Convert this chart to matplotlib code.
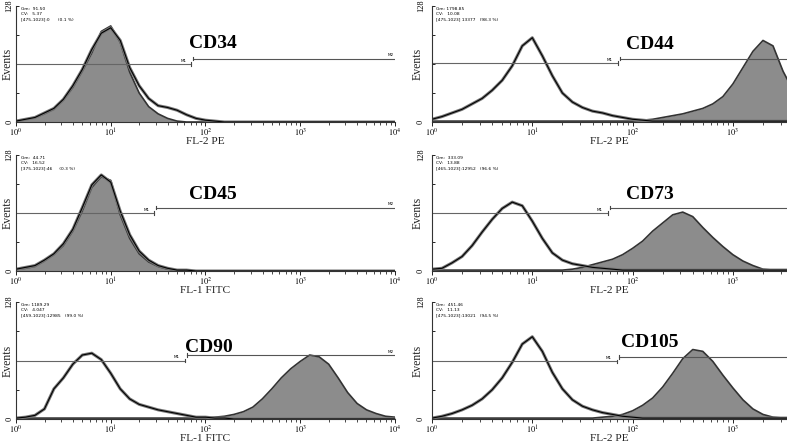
import numpy as np
import matplotlib
matplotlib.use('Agg')
import matplotlib.pyplot as plt

plt.rcParams['font.family'] = ['Liberation Serif', 'DejaVu Serif']
plt.rcParams['mathtext.fontset'] = 'stix'

# channel positions (log10 of fluorescence), left panels show 10^0..10^4,
# right panels are cut off at the picture edge
log_left = np.round(np.arange(0, 4.01, 0.1), 1)
log_right = np.round(np.arange(0, 3.61, 0.1), 1)

markers = ['CD34', 'CD44', 'CD45', 'CD73', 'CD90', 'CD105']
channels = ['FL-2 PE', 'FL-2 PE', 'FL-1 FITC', 'FL-2 PE', 'FL-1 FITC', 'FL-2 PE']
stats = [
    ['Gm:  91.50', 'CV:   5.37', '[475-1023]:0      (0.1 %)'],
    ['Gm: 1798.85', 'CV:   10.08', '[475-1023] 13377   (98.3 %)'],
    ['Gm:  44.71', 'CV:   16.52', '[375-1023]:46     (0.3 %)'],
    ['Gm:  333.09', 'CV:   13.88', '[465-1023]:12952   (96.6 %)'],
    ['Gm: 1189.29', 'CV:   4.047', '[459-1023]:12985   (99.0 %)'],
    ['Gm:  451.46', 'CV:   11.13', '[475-1023]:13021   (94.5 %)'],
]
# gate markers: end of M1 (log10), and heights of M1 / M2 (events)
m1_end = [1.85, 1.85, 1.46, 1.75, 1.78, 1.84]
m1_y = [64, 65, 64, 64, 64, 63]
m2_y = [70, 70, 70, 70, 70, 68]

# stained sample (grey filled) and isotype control (open) histograms
cd34_stained = [1, 3, 5, 9, 14, 24, 38, 56, 76, 100, 106, 88, 55, 32, 17, 9, 4, 1,
                0, 0, 0, 0, 0, 0, 0, 0, 0, 0, 0, 0, 0, 0, 0, 0, 0, 0, 0, 0, 0, 0, 0]
cd34_control = [1, 3, 5, 10, 15, 25, 40, 58, 80, 98, 104, 90, 60, 40, 26, 18, 16, 13, 8, 4, 2, 1,
                0, 0, 0, 0, 0, 0, 0, 0, 0, 0, 0, 0, 0, 0, 0, 0, 0, 0, 0]

cd44_stained = [1, 1, 1, 1, 1, 1, 1, 1, 1, 1, 1, 1, 1, 1, 1, 1, 1, 1, 1, 1, 1,
                2, 3, 5, 7, 9, 12, 15, 20, 28, 42, 60, 78, 90, 84, 56, 35]
cd44_control = [3, 6, 10, 14, 20, 26, 35, 46, 62, 84, 93, 73, 51, 32, 22, 16, 12, 10, 7, 5, 3, 2,
                1, 1, 1, 1, 1, 1, 1, 1, 1, 1, 1, 1, 1, 1, 1]

cd45_stained = [2, 3, 5, 11, 18, 28, 44, 66, 92, 104, 100, 62, 36, 19, 10, 5, 2, 1,
                0, 0, 0, 0, 0, 0, 0, 0, 0, 0, 0, 0, 0, 0, 0, 0, 0, 0, 0, 0, 0, 0, 0]
cd45_control = [2, 4, 6, 12, 19, 30, 46, 70, 95, 106, 98, 66, 40, 22, 12, 6, 3, 1, 1,
                0, 0, 0, 0, 0, 0, 0, 0, 0, 0, 0, 0, 0, 0, 0, 0, 0, 0, 0, 0, 0, 0]

cd73_stained = [1, 1, 1, 1, 1, 1, 1, 1, 1, 1, 1, 1, 1, 1,
                2, 4, 7, 10, 13, 18, 25, 33, 44, 53, 62, 65, 60, 48, 37, 27, 18, 11, 6, 2, 1, 1, 0]
cd73_control = [2, 3, 9, 16, 28, 43, 57, 69, 76, 72, 55, 36, 20, 12, 8, 6, 4, 3, 2, 1,
                1, 1, 1, 1, 1, 1, 1, 1, 1, 1, 1, 1, 1, 1, 1, 1, 1]

cd90_stained = [1, 1, 1, 1, 1, 1, 1, 1, 1, 1, 1, 1, 1, 1, 1, 1, 1, 1, 1, 1, 1,
                2, 3, 5, 8, 13, 22, 33, 45, 55, 63, 70, 68, 60, 45, 29, 17, 10, 6, 3, 2]
cd90_control = [1, 2, 4, 11, 33, 45, 60, 70, 72, 65, 50, 33, 22, 16, 13, 10, 8, 6, 4, 2, 2, 1, 1,
                0, 0, 0, 0, 0, 0, 0, 0, 0, 0, 0, 0, 0, 0, 0, 0, 0, 0]

cd105_stained = [1, 1, 1, 1, 1, 1, 1, 1, 1, 1, 1, 1, 1, 1, 1, 1, 1,
                 2, 3, 5, 9, 15, 23, 35, 50, 66, 76, 74, 63, 48, 34, 21, 11, 5, 2, 1, 1]
cd105_control = [1, 3, 6, 10, 15, 22, 32, 45, 62, 82, 90, 74, 51, 33, 21, 14, 10, 7, 5, 3, 2, 1,
                 1, 1, 1, 1, 1, 1, 1, 1, 1, 1, 1, 1, 1, 1, 1]

stained = [cd34_stained, cd44_stained, cd45_stained, cd73_stained, cd90_stained, cd105_stained]
control = [cd34_control, cd44_control, cd45_control, cd73_control, cd90_control, cd105_control]

W, H = 787, 448
fig = plt.figure(figsize=(W / 100, H / 100), dpi=100)

# pixel boxes: (zero line, top) per row, (left, right) per column
rows_px = [(122, 6), (271, 155), (419, 302)]
cols_px = [(16, 395), (432, 787)]
xmax = [4.0, 355 / 100.3]
ytick_pad = [1.8, 5.2]
title_pos = [(0.52, 0.68), (0.614, 0.67), (0.52, 0.66), (0.614, 0.66), (0.51, 0.61), (0.614, 0.65)]

for i, name in enumerate(markers):
    r, c = divmod(i, 2)
    zero, top = rows_px[r]
    x0, x1 = cols_px[c]
    ax = fig.add_axes([x0 / W, 1 - zero / H, (x1 - x0) / W, (zero - top) / H])
    logs = log_left if c == 0 else log_right
    x = 10 ** logs

    ax.fill_between(x, 0, stained[i], color='#8c8c8c', lw=0)
    ax.plot(x, stained[i], color='#333333', lw=1.2)
    ax.plot(x, control[i], color='#777777', lw=2.2)
    ax.plot(x, control[i], color='black', lw=0.8)

    # gate markers
    ax.plot([1, 10 ** m1_end[i]], [m1_y[i], m1_y[i]], color='#666666', lw=0.8)
    ax.plot([10 ** (m1_end[i] + 0.02), 10 ** 4], [m2_y[i], m2_y[i]], color='#555555', lw=0.8)
    ax.plot([10 ** m1_end[i]] * 2, [m1_y[i] - 2, m1_y[i] + 2], color='#444444', lw=0.8)
    ax.plot([10 ** (m1_end[i] + 0.02)] * 2, [m2_y[i] - 2, m2_y[i] + 2], color='#444444', lw=0.8)
    ax.text(10 ** (m1_end[i] - 0.08), m1_y[i] + 1.5, 'M1', fontsize=3, ha='center', va='bottom',
            family='DejaVu Sans')
    if c == 0:
        ax.text(10 ** 3.95, m2_y[i] + 1.5, 'M2', fontsize=3, ha='center', va='bottom',
                family='DejaVu Sans')

    ax.text(0.012, 0.99, '\n'.join(stats[i]), transform=ax.transAxes, fontsize=3.2,
            va='top', ha='left', family='DejaVu Sans', linespacing=1.4)
    tx, ty = title_pos[i]
    ax.text(tx, ty, name, transform=ax.transAxes, fontsize=14, fontweight='bold',
            ha='center', va='center')

    ax.set_xscale('log')
    decades = [d for d in [1, 10, 100, 1000, 10000] if d <= 10 ** xmax[c]]
    ax.set_xticks(decades)
    ax.set_xticklabels([r'$10^{%d}$' % k for k in range(len(decades))], fontsize=6)
    ax.set_xlim(1, 10 ** xmax[c])
    ax.set_ylim(0, 128)
    ax.set_yticks([0, 32, 64, 96, 128])
    ax.set_yticklabels(['0', '', '', '', '128'], rotation=90, va='center', fontsize=6)
    ax.tick_params(axis='y', direction='in', length=2, width=0.6, pad=ytick_pad[c])
    ax.tick_params(axis='x', which='major', direction='out', length=3, width=0.6, pad=0.3)
    ax.tick_params(axis='x', which='minor', direction='out', length=1.8, width=0.5)
    for s in ['top', 'right']:
        ax.spines[s].set_visible(False)
    for s in ['left', 'bottom']:
        ax.spines[s].set_linewidth(0.8)
        ax.spines[s].set_color('#333333')
    ax.set_xlabel(channels[i], fontsize=8.2, labelpad=-1.5, color='#222222')
    ax.set_ylabel('Events', fontsize=8.5, color='#222222')
    ax.yaxis.set_label_coords((14 - x0) / (x1 - x0) if c == 0 else -8 / (x1 - x0), 0.5)
    ax.patch.set_alpha(0)

fig.savefig('out.png', dpi=100)
